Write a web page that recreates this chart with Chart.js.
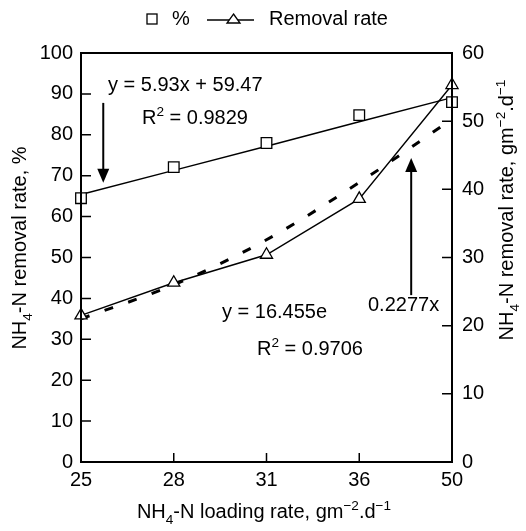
<!DOCTYPE html>
<html>
<head>
<meta charset="utf-8">
<script src="https://cdn.jsdelivr.net/npm/chart.js@4.4.1/dist/chart.umd.min.js"></script>
<style>
  html, body { margin: 0; padding: 0; background: #fff; }
  #wrap { width: 526px; height: 531px; position: relative; }
</style>
</head>
<body>
<div id="wrap"><canvas id="chart"></canvas></div>
<script>
// values
const loadingRate = ['25', '28', '31', '36', '50'];
const pctRemoval = [64.5, 72.1, 78.0, 84.8, 88.0];      // squares, left axis
const pctTrend = [65.4, 71.3, 77.2, 83.2, 89.1];        // linear fit, left axis
const removalRate = [21.5, 26.3, 30.4, 38.6, 55.3];     // triangles, right axis
const removalTrend = [21.0, 26.0, 32.6, 41.0, 50.3];    // exp fit, right axis

const FONT = '"Liberation Sans", Arial, sans-serif';
const FS = 20;

// draws text with sub/superscript parts: [['NH'], ['4','sub'], ...]
function richText(ctx, parts, x, y, size, align) {
    const widths = parts.map(p => {
        ctx.font = (p[1] ? size * 0.68 : size) + 'px ' + FONT;
        return ctx.measureText(p[0]).width;
    });
    const total = widths.reduce((a, b) => a + b, 0);
    let cx = align === 'center' ? x - total / 2 : x;
    ctx.textAlign = 'left';
    ctx.textBaseline = 'alphabetic';
    parts.forEach((p, i) => {
        let dy = 0;
        if (p[1] === 'sub') dy = size * 0.28;
        if (p[1] === 'sup') dy = -size * 0.42;
        ctx.font = (p[1] ? size * 0.68 : size) + 'px ' + FONT;
        ctx.fillText(p[0], cx, y + dy);
        cx += widths[i];
    });
}

function arrow(ctx, x, y0, y1) {
    // shaft from y0 to tip at y1
    const dir = y1 > y0 ? 1 : -1;
    ctx.beginPath();
    ctx.moveTo(x, y0);
    ctx.lineTo(x, y1 - dir * 12);
    ctx.lineWidth = 2;
    ctx.stroke();
    ctx.beginPath();
    ctx.moveTo(x, y1);
    ctx.lineTo(x - 6, y1 - dir * 14);
    ctx.lineTo(x + 6, y1 - dir * 14);
    ctx.closePath();
    ctx.fill();
}

const decorations = {
    id: 'decorations',
    afterDraw(chart) {
        const ctx = chart.ctx;
        const a = chart.chartArea;
        const xs = chart.scales.x, ys = chart.scales.y, ys1 = chart.scales.y1;
        ctx.save();
        ctx.strokeStyle = '#000';
        ctx.fillStyle = '#000';

        // frame
        ctx.lineWidth = 2;
        ctx.strokeRect(a.left, a.top, a.right - a.left, a.bottom - a.top);

        // inward tick marks
        ctx.lineWidth = 1.5;
        ctx.beginPath();
        ys.ticks.forEach(t => {
            const p = ys.getPixelForValue(t.value);
            ctx.moveTo(a.left, p); ctx.lineTo(a.left + 10, p);
        });
        ys1.ticks.forEach(t => {
            const p = ys1.getPixelForValue(t.value);
            ctx.moveTo(a.right, p); ctx.lineTo(a.right - 10, p);
        });
        for (let i = 1; i < loadingRate.length - 1; i++) {
            const p = xs.getPixelForValue(i);
            ctx.moveTo(p, a.bottom); ctx.lineTo(p, a.bottom - 9);
        }
        ctx.stroke();

        // fit equations
        richText(ctx, [['y = 5.93x + 59.47']], 108, 91, FS);
        richText(ctx, [['R'], ['2', 'sup'], [' = 0.9829']], 142, 124, FS);
        richText(ctx, [['y = 16.455e']], 222, 318, FS);
        richText(ctx, [['0.2277x']], 368, 311, FS);
        richText(ctx, [['R'], ['2', 'sup'], [' = 0.9706']], 257, 355, FS);

        // arrows
        arrow(ctx, xs.getPixelForValue(0.24), ys.getPixelForValue(87.8), ys.getPixelForValue(68.3));
        arrow(ctx, xs.getPixelForValue(3.56), ys.getPixelForValue(40.8), ys.getPixelForValue(74.3));

        // axis titles
        richText(ctx, [['NH'], ['4', 'sub'], ['-N loading rate, gm'], ['\u22122', 'sup'], ['.d'], ['\u22121', 'sup']], 264, 518, FS, 'center');
        ctx.save();
        ctx.translate(26, 248);
        ctx.rotate(-Math.PI / 2);
        richText(ctx, [['NH'], ['4', 'sub'], ['-N removal rate, %']], 0, 0, FS, 'center');
        ctx.restore();
        ctx.save();
        ctx.translate(513, 210);
        ctx.rotate(-Math.PI / 2);
        richText(ctx, [['NH'], ['4', 'sub'], ['-N removal rate, gm'], ['\u22122', 'sup'], ['.d'], ['\u22121', 'sup']], 0, 0, FS, 'center');
        ctx.restore();

        // legend
        ctx.lineWidth = 1.3;
        ctx.fillStyle = '#fff';
        ctx.fillRect(147, 14, 10, 10);
        ctx.strokeRect(147, 14, 10, 10);
        ctx.fillStyle = '#000';
        richText(ctx, [['%']], 172, 25, FS);
        ctx.beginPath();
        ctx.moveTo(207, 20); ctx.lineTo(254, 20);
        ctx.stroke();
        ctx.beginPath();
        ctx.moveTo(233.5, 14); ctx.lineTo(240, 23); ctx.lineTo(227, 23); ctx.closePath();
        ctx.fillStyle = '#fff';
        ctx.fill();
        ctx.stroke();
        ctx.fillStyle = '#000';
        richText(ctx, [['Removal rate']], 269, 25, FS);

        ctx.restore();
    }
};

const tickFont = { family: FONT, size: FS };

new Chart(document.getElementById('chart'), {
    type: 'line',
    data: {
        labels: loadingRate,
        datasets: [
            {
                label: '%',
                data: pctRemoval,
                yAxisID: 'y',
                showLine: false,
                pointStyle: 'rect',
                pointRadius: 7.5,
                pointBackgroundColor: '#fff',
                pointBorderColor: '#000',
                pointBorderWidth: 1.3,
                clip: false,
                order: 0
            },
            {
                label: '% fit',
                data: pctTrend,
                yAxisID: 'y',
                borderColor: '#000',
                borderWidth: 1.4,
                pointRadius: 0,
                clip: false,
                order: 2
            },
            {
                label: 'Removal rate',
                data: removalRate,
                yAxisID: 'y1',
                borderColor: '#000',
                borderWidth: 1.4,
                pointStyle: 'triangle',
                pointRadius: 7,
                pointBackgroundColor: '#fff',
                pointBorderColor: '#000',
                pointBorderWidth: 1.3,
                clip: false,
                order: 1
            },
            {
                label: 'Removal rate fit',
                data: removalTrend,
                yAxisID: 'y1',
                borderColor: '#000',
                borderWidth: 3,
                borderDash: [9, 16],
                pointRadius: 0,
                cubicInterpolationMode: 'monotone',
                clip: false,
                order: 3
            }
        ]
    },
    options: {
        responsive: true,
        maintainAspectRatio: false,
        animation: false,
        layout: { padding: { top: 53, left: 0, right: 0, bottom: 0 } },
        plugins: {
            legend: { display: false },
            tooltip: { enabled: false }
        },
        scales: {
            x: {
                offset: false,
                grid: { display: false, drawTicks: false },
                border: { display: false },
                ticks: { color: '#000', font: tickFont, padding: 6, maxRotation: 0, autoSkip: false },
                afterFit: s => { s.height = 69; }
            },
            y: {
                position: 'left',
                min: 0,
                max: 100,
                grid: { display: false, drawTicks: false },
                border: { display: false },
                ticks: { stepSize: 10, color: '#000', font: tickFont, padding: 8 },
                afterFit: s => { s.width = 81; }
            },
            y1: {
                position: 'right',
                min: 0,
                max: 60,
                grid: { display: false, drawTicks: false },
                border: { display: false },
                ticks: { stepSize: 10, color: '#000', font: tickFont, padding: 10 },
                afterFit: s => { s.width = 74; }
            }
        }
    },
    plugins: [decorations]
});
</script>
</body>
</html>
